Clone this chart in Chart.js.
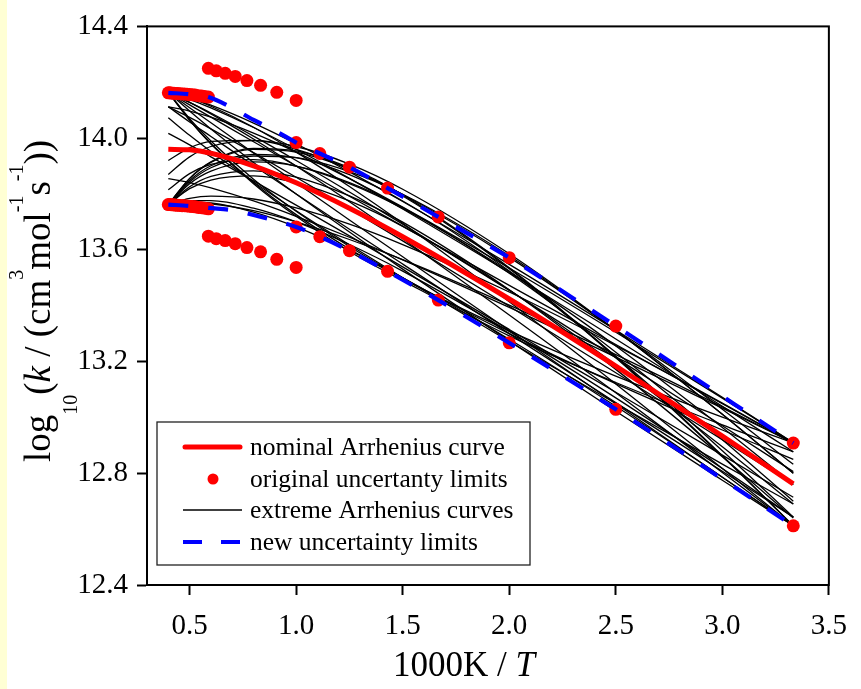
<!DOCTYPE html>
<html><head><meta charset="utf-8">
<script src="https://cdn.jsdelivr.net/npm/chart.js@4.4.1/dist/chart.umd.min.js"></script>
<style>html,body{margin:0;padding:0;background:#fff;}canvas{display:block;}</style>
</head><body>
<canvas id="c" width="861" height="689"></canvas>
<script>
// ---- axis ticks ----
const xTickValues = [0.5, 1.0, 1.5, 2.0, 2.5, 3.0, 3.5];
const yTickValues = [12.4, 12.8, 13.2, 13.6, 14.0, 14.4];

// ---- nominal Arrhenius curve ----
const curveX = [0.4, 0.5, 0.6, 0.8, 1.0, 1.25, 1.5, 2.0, 2.5, 3.0, 3.333];
const nominalY = [13.960, 13.958, 13.946, 13.901, 13.840, 13.749, 13.647, 13.424, 13.184, 12.933, 12.762];

// ---- original uncertainty limits (dots) ----
const dotsHighTX = [0.400, 0.408, 0.417, 0.426, 0.435, 0.444, 0.455, 0.465, 0.476, 0.488, 0.500, 0.513, 0.526, 0.541, 0.556, 0.571, 0.588];
const dotsHighTUpper = [14.162, 14.162, 14.161, 14.161, 14.160, 14.160, 14.159, 14.158, 14.158, 14.157, 14.156, 14.155, 14.154, 14.152, 14.151, 14.149, 14.147];
const dotsHighTLower = [13.762, 13.762, 13.761, 13.761, 13.760, 13.760, 13.759, 13.758, 13.758, 13.757, 13.756, 13.755, 13.754, 13.752, 13.751, 13.749, 13.747];
const dotsMidTX = [0.588, 0.625, 0.667, 0.714, 0.769, 0.833, 0.909, 1.000];
const dotsMidTUpper = [14.250, 14.241, 14.232, 14.221, 14.206, 14.189, 14.164, 14.135];
const dotsMidTLower = [13.649, 13.640, 13.633, 13.622, 13.608, 13.593, 13.566, 13.537];
const dotsLowTX = [1.000, 1.111, 1.250, 1.429, 1.667, 2.000, 2.500, 3.333];
const dotsLowTUpper = [13.984, 13.945, 13.896, 13.821, 13.718, 13.572, 13.327, 12.908];
const dotsLowTLower = [13.682, 13.647, 13.597, 13.523, 13.420, 13.267, 13.029, 12.612];

// ---- new uncertainty limits (blue dashed) ----
const newLimitX = [0.4, 0.5, 0.588, 0.7, 0.8, 0.9, 1.0, 1.111, 1.25, 1.429, 1.667, 2.0, 2.5, 3.333];
const newUpperY = [14.162, 14.157, 14.147, 14.108, 14.065, 14.027, 13.984, 13.945, 13.896, 13.821, 13.718, 13.572, 13.327, 12.908];
const newLowerY = [13.762, 13.757, 13.750, 13.742, 13.725, 13.705, 13.682, 13.647, 13.597, 13.523, 13.420, 13.267, 13.029, 12.612];

// ---- extreme Arrhenius curves (values at curveX) ----
// from the upper-left corner
const extremeA1 = [14.164, 14.144, 14.118, 14.054, 13.980, 13.879, 13.773, 13.548, 13.313, 13.072, 12.909];
const extremeA2 = [14.164, 14.144, 14.114, 14.039, 13.950, 13.827, 13.695, 13.414, 13.120, 12.817, 12.612];
const extremeA3 = [14.164, 14.128, 14.087, 13.997, 13.900, 13.772, 13.640, 13.367, 13.088, 12.803, 12.612];
const extremeA4 = [14.164, 14.109, 14.055, 13.947, 13.840, 13.707, 13.575, 13.311, 13.049, 12.786, 12.612];
const extremeA5 = [14.164, 14.097, 14.033, 13.913, 13.800, 13.664, 13.531, 13.274, 13.022, 12.775, 12.612];
const extremeA6 = [14.164, 14.128, 14.090, 14.007, 13.920, 13.807, 13.692, 13.455, 13.214, 12.970, 12.806];
const extremeA7 = [14.164, 14.139, 14.108, 14.038, 13.960, 13.856, 13.746, 13.518, 13.281, 13.040, 12.877];
const extremeD1 = [14.164, 14.119, 14.075, 13.987, 13.900, 13.792, 13.685, 13.473, 13.261, 13.049, 12.909];
const extremeK1 = [14.164, 14.065, 13.981, 13.841, 13.726, 13.603, 13.496, 13.310, 13.148, 13.001, 12.909];
const extremeK2 = [14.164, 14.070, 13.990, 13.853, 13.738, 13.612, 13.500, 13.300, 13.121, 12.955, 12.850];
const extremeK3 = [14.164, 14.064, 13.979, 13.837, 13.720, 13.594, 13.490, 13.292, 13.125, 12.973, 12.877];
// from the lower-left corner
const extremeB1 = [13.762, 13.843, 13.894, 13.936, 13.930, 13.880, 13.799, 13.579, 13.311, 13.011, 12.800];
const extremeB2 = [13.762, 13.837, 13.882, 13.915, 13.900, 13.841, 13.751, 13.516, 13.233, 12.920, 12.700];
const extremeB3 = [13.762, 13.826, 13.863, 13.883, 13.860, 13.793, 13.699, 13.457, 13.172, 12.859, 12.640];
const extremeB4 = [13.762, 13.819, 13.850, 13.865, 13.840, 13.775, 13.684, 13.456, 13.188, 12.895, 12.690];
const extremeC1 = [13.762, 13.771, 13.768, 13.735, 13.682, 13.598, 13.500, 13.280, 13.040, 12.786, 12.612];
const extremeC2 = [13.762, 13.784, 13.792, 13.782, 13.750, 13.692, 13.619, 13.449, 13.257, 13.051, 12.909];
const extremeC3 = [13.762, 13.768, 13.765, 13.740, 13.700, 13.637, 13.565, 13.402, 13.225, 13.038, 12.909];
const extremeC4 = [13.762, 13.776, 13.776, 13.749, 13.700, 13.619, 13.524, 13.308, 13.070, 12.817, 12.643];
const extremeM1 = [13.762, 13.855, 13.913, 13.960, 13.950, 13.889, 13.793, 13.532, 13.214, 12.861, 12.612];
const extremeM2 = [13.762, 13.856, 13.915, 13.963, 13.954, 13.894, 13.797, 13.536, 13.217, 12.863, 12.612];
const extremeM3 = [13.762, 13.848, 13.901, 13.942, 13.930, 13.869, 13.775, 13.524, 13.219, 12.881, 12.643];
// starting between the corners
const extremeE1 = [14.112, 14.058, 14.006, 13.902, 13.800, 13.674, 13.549, 13.300, 13.053, 12.807, 12.643];
const extremeE2 = [14.073, 14.010, 13.952, 13.843, 13.740, 13.618, 13.500, 13.272, 13.050, 12.833, 12.690];
const extremeE3 = [14.017, 13.976, 13.933, 13.847, 13.760, 13.650, 13.539, 13.315, 13.090, 12.865, 12.714];
const extremeE4 = [14.112, 14.074, 14.033, 13.948, 13.860, 13.747, 13.632, 13.398, 13.160, 12.920, 12.760];
const extremeF1 = [13.920, 13.965, 13.988, 13.992, 13.960, 13.890, 13.798, 13.573, 13.312, 13.029, 12.832];
const extremeF2 = [13.870, 13.933, 13.970, 13.991, 13.970, 13.907, 13.817, 13.586, 13.312, 13.011, 12.800];
const extremeF3 = [13.815, 13.873, 13.906, 13.923, 13.900, 13.837, 13.748, 13.522, 13.256, 12.964, 12.760];
const extremeG1 = [14.112, 14.097, 14.075, 14.018, 13.950, 13.855, 13.753, 13.535, 13.305, 13.069, 12.909];
const extremeH1 = [13.855, 13.841, 13.822, 13.775, 13.720, 13.645, 13.564, 13.394, 13.216, 13.033, 12.909];
const extremeCurves = [extremeA1, extremeA2, extremeA3, extremeA4, extremeA5, extremeA6, extremeA7,
  extremeD1, extremeK1, extremeK2, extremeK3,
  extremeB1, extremeB2, extremeB3, extremeB4, extremeC1, extremeC2, extremeC3, extremeC4,
  extremeM1, extremeM2, extremeM3,
  extremeE1, extremeE2, extremeE3, extremeE4, extremeF1, extremeF2, extremeF3, extremeG1, extremeH1];

const legendLabels = ['nominal Arrhenius curve', 'original uncertanty limits', 'extreme Arrhenius curves', 'new uncertainty limits'];

// ---- helpers ----
const zip = (xs, ys) => xs.map((x, i) => ({x: x, y: ys[i]}));
const SERIF = '"Liberation Serif", "Times New Roman", serif';

const datasets = [];
datasets.push({
  label: legendLabels[3], data: zip(newLimitX, newUpperY), showLine: true, order: 0,
  borderColor: '#0000ff', borderWidth: 4.2, borderDash: [20, 20], pointRadius: 0,
  cubicInterpolationMode: 'monotone', fill: false
});
datasets.push({
  label: '_newLower', data: zip(newLimitX, newLowerY), showLine: true, order: 0,
  borderColor: '#0000ff', borderWidth: 4.2, borderDash: [20, 20], pointRadius: 0,
  cubicInterpolationMode: 'monotone', fill: false
});
const dotData = [].concat(
  zip(dotsHighTX, dotsHighTUpper), zip(dotsHighTX, dotsHighTLower),
  zip(dotsMidTX, dotsMidTUpper), zip(dotsMidTX, dotsMidTLower),
  zip(dotsLowTX, dotsLowTUpper), zip(dotsLowTX, dotsLowTLower));
datasets.push({
  label: legendLabels[1], data: dotData, showLine: false, order: 1,
  pointRadius: 6.5, pointBackgroundColor: '#ff0000', pointBorderWidth: 0, pointStyle: 'circle'
});
datasets.push({
  label: legendLabels[0], data: zip(curveX, nominalY), showLine: true, order: 2,
  borderColor: '#ff0000', borderWidth: 5, pointRadius: 0, cubicInterpolationMode: 'monotone'
});
extremeCurves.forEach((ys, i) => {
  datasets.push({
    label: i === 0 ? legendLabels[2] : '_ext' + i, data: zip(curveX, ys), showLine: true, order: 3,
    borderColor: '#000000', borderWidth: 1.3, pointRadius: 0, cubicInterpolationMode: 'monotone'
  });
});

// ---- plugins ----
const bgPlugin = {
  id: 'bg',
  beforeDraw(chart) {
    const ctx = chart.ctx;
    ctx.save();
    ctx.fillStyle = '#ffffff';
    ctx.fillRect(0, 0, chart.width, chart.height);
    ctx.fillStyle = '#ffffd4';
    ctx.fillRect(0, 0, 7, chart.height);
    ctx.restore();
  }
};

function drawRich(ctx, parts, x0, y0, align) {
  let total = 0;
  parts.forEach(p => { ctx.font = p.font; p.w = ctx.measureText(p.t).width; total += p.w; });
  let x = align === 'center' ? x0 - total / 2 : x0;
  parts.forEach(p => {
    ctx.font = p.font;
    ctx.fillText(p.t, x, y0 + (p.dy || 0));
    x += p.w;
  });
}

const framePlugin = {
  id: 'frame',
  afterDraw(chart) {
    const ctx = chart.ctx;
    const a = chart.chartArea;
    ctx.save();
    ctx.strokeStyle = '#000';
    ctx.lineWidth = 2;
    ctx.strokeRect(a.left, a.top, a.right - a.left, a.bottom - a.top);

    // legend
    const lx = 157, ly = 422, lw = 373, lh = 143;
    ctx.fillStyle = '#fff';
    ctx.fillRect(lx, ly, lw, lh);
    ctx.strokeStyle = '#222';
    ctx.lineWidth = 1.3;
    ctx.strokeRect(lx, ly, lw, lh);
    const rows = [447, 479, 510, 542];
    ctx.strokeStyle = '#ff0000'; ctx.lineWidth = 5; ctx.lineCap = 'round';
    ctx.beginPath(); ctx.moveTo(185, rows[0]); ctx.lineTo(240, rows[0]); ctx.stroke();
    ctx.fillStyle = '#ff0000';
    ctx.beginPath(); ctx.arc(213, rows[1], 5.5, 0, Math.PI * 2); ctx.fill();
    ctx.lineCap = 'butt';
    ctx.strokeStyle = '#000'; ctx.lineWidth = 1.3;
    ctx.beginPath(); ctx.moveTo(183, rows[2]); ctx.lineTo(242, rows[2]); ctx.stroke();
    ctx.strokeStyle = '#0000ff'; ctx.lineWidth = 4.2;
    ctx.beginPath(); ctx.moveTo(183, rows[3]); ctx.lineTo(202, rows[3]);
    ctx.moveTo(221, rows[3]); ctx.lineTo(240, rows[3]); ctx.stroke();
    ctx.fillStyle = '#000';
    ctx.font = '25.5px ' + SERIF;
    ctx.textBaseline = 'middle';
    ctx.textAlign = 'left';
    legendLabels.forEach((t, i) => ctx.fillText(t, 250, rows[i] + 1));

    // x title
    ctx.textBaseline = 'alphabetic';
    drawRich(ctx, [
      {t: '1000K / ', font: '35px ' + SERIF},
      {t: 'T', font: 'italic 35px ' + SERIF}
    ], 393, 676, 'left');

    // y title (rotated)
    ctx.save();
    ctx.translate(50, 301);
    ctx.rotate(-Math.PI / 2);
    const big = '37px ' + SERIF, small = '20px ' + SERIF;
    drawRich(ctx, [
      {t: 'log', font: big},
      {t: '10', font: small, dy: 27},
      {t: '(', font: big},
      {t: 'k', font: 'italic 37px ' + SERIF},
      {t: ' / (cm', font: big},
      {t: '3', font: small, dy: -27},
      {t: 'mol', font: big},
      {t: '-1', font: small, dy: -27},
      {t: 's', font: big},
      {t: '-1', font: small, dy: -27},
      {t: '))', font: big}
    ], 0, 0, 'center');
    ctx.restore();
    ctx.restore();
  }
};

const tickFont = {family: SERIF, size: 29};

new Chart(document.getElementById('c'), {
  type: 'scatter',
  data: {datasets: datasets},
  options: {
    responsive: false,
    devicePixelRatio: 1,
    animation: false,
    layout: {padding: {left: 0, top: 22, right: 23, bottom: 0}},
    plugins: {legend: {display: false}, tooltip: {enabled: false}, title: {display: false}},
    scales: {
      x: {
        type: 'linear', min: 0.3, max: 3.5,
        afterBuildTicks: s => { s.ticks = xTickValues.map(v => ({value: v})); },
        afterFit: s => { s.height = 104; },
        ticks: {font: tickFont, color: '#000', padding: 14, maxRotation: 0, autoSkip: false,
          callback: v => Number(v).toFixed(1)},
        grid: {drawOnChartArea: false, drawTicks: true, tickLength: 10, tickWidth: 2, tickColor: '#000'},
        border: {display: true, color: '#000', width: 2}
      },
      y: {
        type: 'linear', min: 12.4, max: 14.4,
        afterBuildTicks: s => { s.ticks = yTickValues.map(v => ({value: v})); },
        afterFit: s => { s.width = 147; },
        ticks: {font: tickFont, color: '#000', padding: 9, autoSkip: false,
          callback: v => Number(v).toFixed(1)},
        grid: {drawOnChartArea: false, drawTicks: true, tickLength: 10, tickWidth: 2, tickColor: '#000'},
        border: {display: true, color: '#000', width: 2}
      }
    }
  },
  plugins: [bgPlugin, framePlugin]
});
</script>
</body></html>
